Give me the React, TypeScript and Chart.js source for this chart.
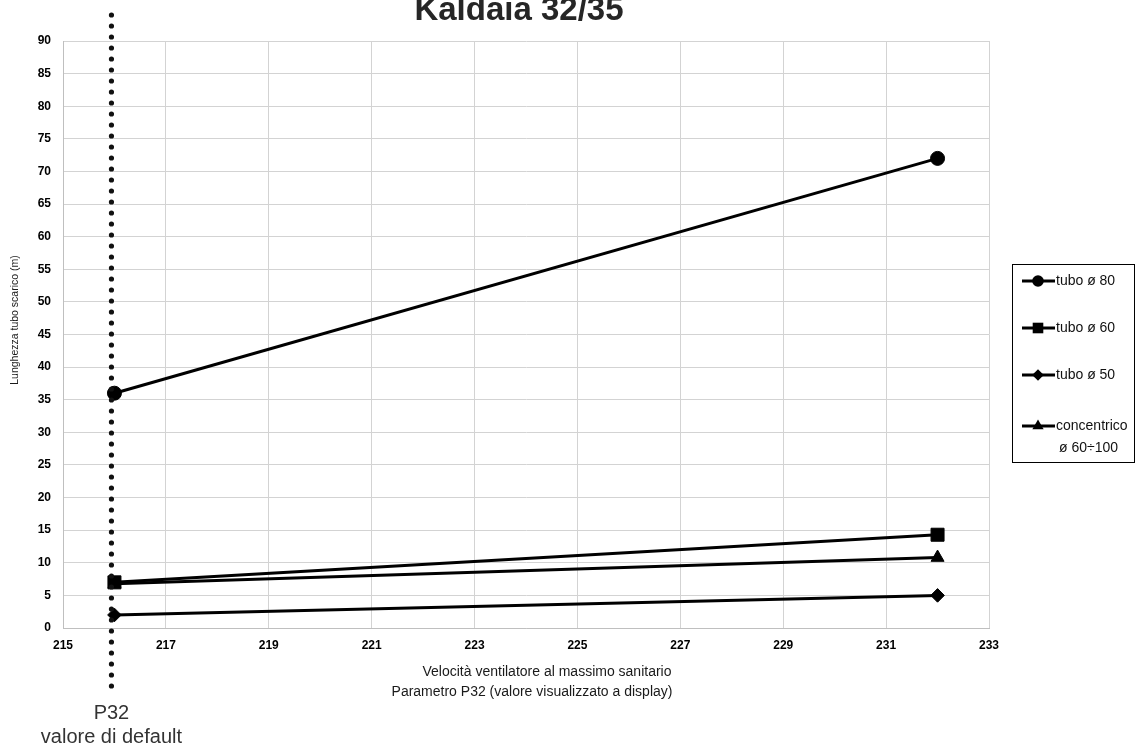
import React, { useEffect, useRef } from "react";
import { Chart, registerables } from "chart.js";

Chart.register(...registerables);

const xValues = [216, 232];
const tubo80 = [36, 72];
const tubo60 = [7, 14.3];
const tubo50 = [2, 5.0];
const concentrico = [6.8, 10.8];

const seriesNames = ["tubo ø 80", "tubo ø 60", "tubo ø 50", ["concentrico", "ø 60÷100"]];
const titleText = "Kaldaia 32/35";
const xTitle = ["Velocità ventilatore al massimo sanitario", "Parametro P32 (valore visualizzato a display)"];
const yTitle = "Lunghezza tubo scarico (m)";
const defaultValue = 216;
const defaultLabel = ["P32", "valore di default"];

const FONT = "'Liberation Sans', Arial, sans-serif";

function marker(ctx: CanvasRenderingContext2D, style: string, x: number, y: number, r: number) {
  ctx.beginPath();
  if (style === "circle") {
    ctx.arc(x, y, r, 0, Math.PI * 2);
  } else if (style === "rect") {
    const s = r * Math.SQRT1_2;
    ctx.rect(x - s, y - s, 2 * s, 2 * s);
  } else if (style === "rectRot") {
    ctx.moveTo(x, y - r);
    ctx.lineTo(x + r, y);
    ctx.lineTo(x, y + r);
    ctx.lineTo(x - r, y);
    ctx.closePath();
  } else {
    ctx.moveTo(x, y - r);
    ctx.lineTo(x + r * 0.866, y + r * 0.5);
    ctx.lineTo(x - r * 0.866, y + r * 0.5);
    ctx.closePath();
  }
  ctx.fill();
}

const overlay = {
  id: "overlay",
  afterDatasetsDraw(chart: any) {
    const ctx = chart.ctx as CanvasRenderingContext2D;
    const xs = chart.scales.x;
    ctx.save();
    const px = xs.getPixelForValue(defaultValue) - 3;
    ctx.strokeStyle = "#111";
    ctx.lineWidth = 5.2;
    ctx.lineCap = "round";
    ctx.setLineDash([0, 11]);
    ctx.beginPath();
    ctx.moveTo(px, 15);
    ctx.lineTo(px, 688);
    ctx.stroke();
    ctx.setLineDash([]);
    ctx.restore();
  },
  afterDraw(chart: any) {
    const ctx = chart.ctx as CanvasRenderingContext2D;
    const xs = chart.scales.x;
    ctx.save();
    ctx.fillStyle = "#262626";
    ctx.font = `bold 33px ${FONT}`;
    ctx.textAlign = "center";
    ctx.textBaseline = "alphabetic";
    ctx.fillText(titleText, 519, 20);

    ctx.fillStyle = "#1a1a1a";
    ctx.font = `14px ${FONT}`;
    ctx.textBaseline = "middle";
    ctx.fillText(xTitle[0], 547, 672);
    ctx.fillText(xTitle[1], 532, 692);

    ctx.save();
    ctx.translate(15, 320);
    ctx.rotate(-Math.PI / 2);
    ctx.font = `10.5px ${FONT}`;
    ctx.fillText(yTitle, 0, 0);
    ctx.restore();

    const px = xs.getPixelForValue(defaultValue) - 3;
    ctx.fillStyle = "#333";
    ctx.font = `20px ${FONT}`;
    ctx.fillText(defaultLabel[0], px, 713);
    ctx.fillText(defaultLabel[1], px, 737);

    ctx.strokeStyle = "#000";
    ctx.lineWidth = 1;
    ctx.strokeRect(1012.5, 264.5, 122, 198);
    const ds = chart.data.datasets;
    const ys = [281, 328, 375, 426];
    ds.forEach((d: any, i: number) => {
      const y = ys[i];
      ctx.strokeStyle = "#000";
      ctx.lineWidth = 3;
      ctx.beginPath();
      ctx.moveTo(1022, y);
      ctx.lineTo(1055, y);
      ctx.stroke();
      ctx.fillStyle = "#000";
      marker(ctx, d.pointStyle, 1038, y, d.pointStyle === "rect" ? 7.5 : d.pointStyle === "triangle" ? 6.5 : 5.8);
      ctx.fillStyle = "#111";
      ctx.font = `14px ${FONT}`;
      ctx.textAlign = "left";
      ctx.textBaseline = "middle";
      const lbl = seriesNames[i];
      if (Array.isArray(lbl)) {
        ctx.fillText(lbl[0], 1056, y);
        ctx.fillText(lbl[1], 1059, y + 22);
      } else {
        ctx.fillText(lbl, 1056, y);
      }
    });
    ctx.restore();
  },
};

export default function App() {
  const ref = useRef<HTMLCanvasElement>(null);
  useEffect(() => {
    if (!ref.current) return;
    const mk = (label: string, data: number[], style: string, r: number) => ({
      label,
      data: data.map((v, i) => ({ x: xValues[i], y: v })),
      borderColor: "#000",
      backgroundColor: "#000",
      borderWidth: 3,
      pointStyle: style,
      pointRadius: r,
      pointHoverRadius: r,
      pointBorderWidth: 1,
      pointBackgroundColor: "#000",
      pointBorderColor: "#000",
      tension: 0,
    });
    const chart = new Chart(ref.current, {
      type: "line",
      data: {
        datasets: [
          mk("tubo ø 80", tubo80, "circle", 7),
          mk("tubo ø 60", tubo60, "rect", 9.2),
          mk("tubo ø 50", tubo50, "rectRot", 6.8),
          mk("concentrico ø 60÷100", concentrico, "triangle", 7.5),
        ],
      },
      options: {
        responsive: false,
        animation: false,
        layout: { padding: { top: 41, right: 150, bottom: 0, left: 0 } },
        plugins: { legend: { display: false }, title: { display: false }, tooltip: { enabled: false } },
        scales: {
          x: {
            type: "linear",
            min: 215,
            max: 233,
            ticks: { stepSize: 2, padding: 10, color: "#000", font: { family: FONT, size: 12, weight: "bold" } },
            grid: { color: "#d3d3d3", lineWidth: 1, drawTicks: false },
            border: { color: "#bfbfbf", width: 1 },
            afterFit: (s: any) => { s.height = 119; },
          },
          y: {
            min: 0,
            max: 90,
            ticks: { stepSize: 5, padding: 12, color: "#000", font: { family: FONT, size: 12, weight: "bold" } },
            grid: { color: "#d3d3d3", lineWidth: 1, drawTicks: false },
            border: { color: "#bfbfbf", width: 1 },
            afterFit: (s: any) => { s.width = 63; },
          },
        },
      },
      plugins: [overlay],
    } as any);
    return () => chart.destroy();
  }, []);
  return (
    <div style={{ position: "absolute", left: 0, top: 0, width: 1139, height: 747, background: "#fff" }}>
      <canvas ref={ref} width={1139} height={747} style={{ display: "block" }} />
    </div>
  );
}
